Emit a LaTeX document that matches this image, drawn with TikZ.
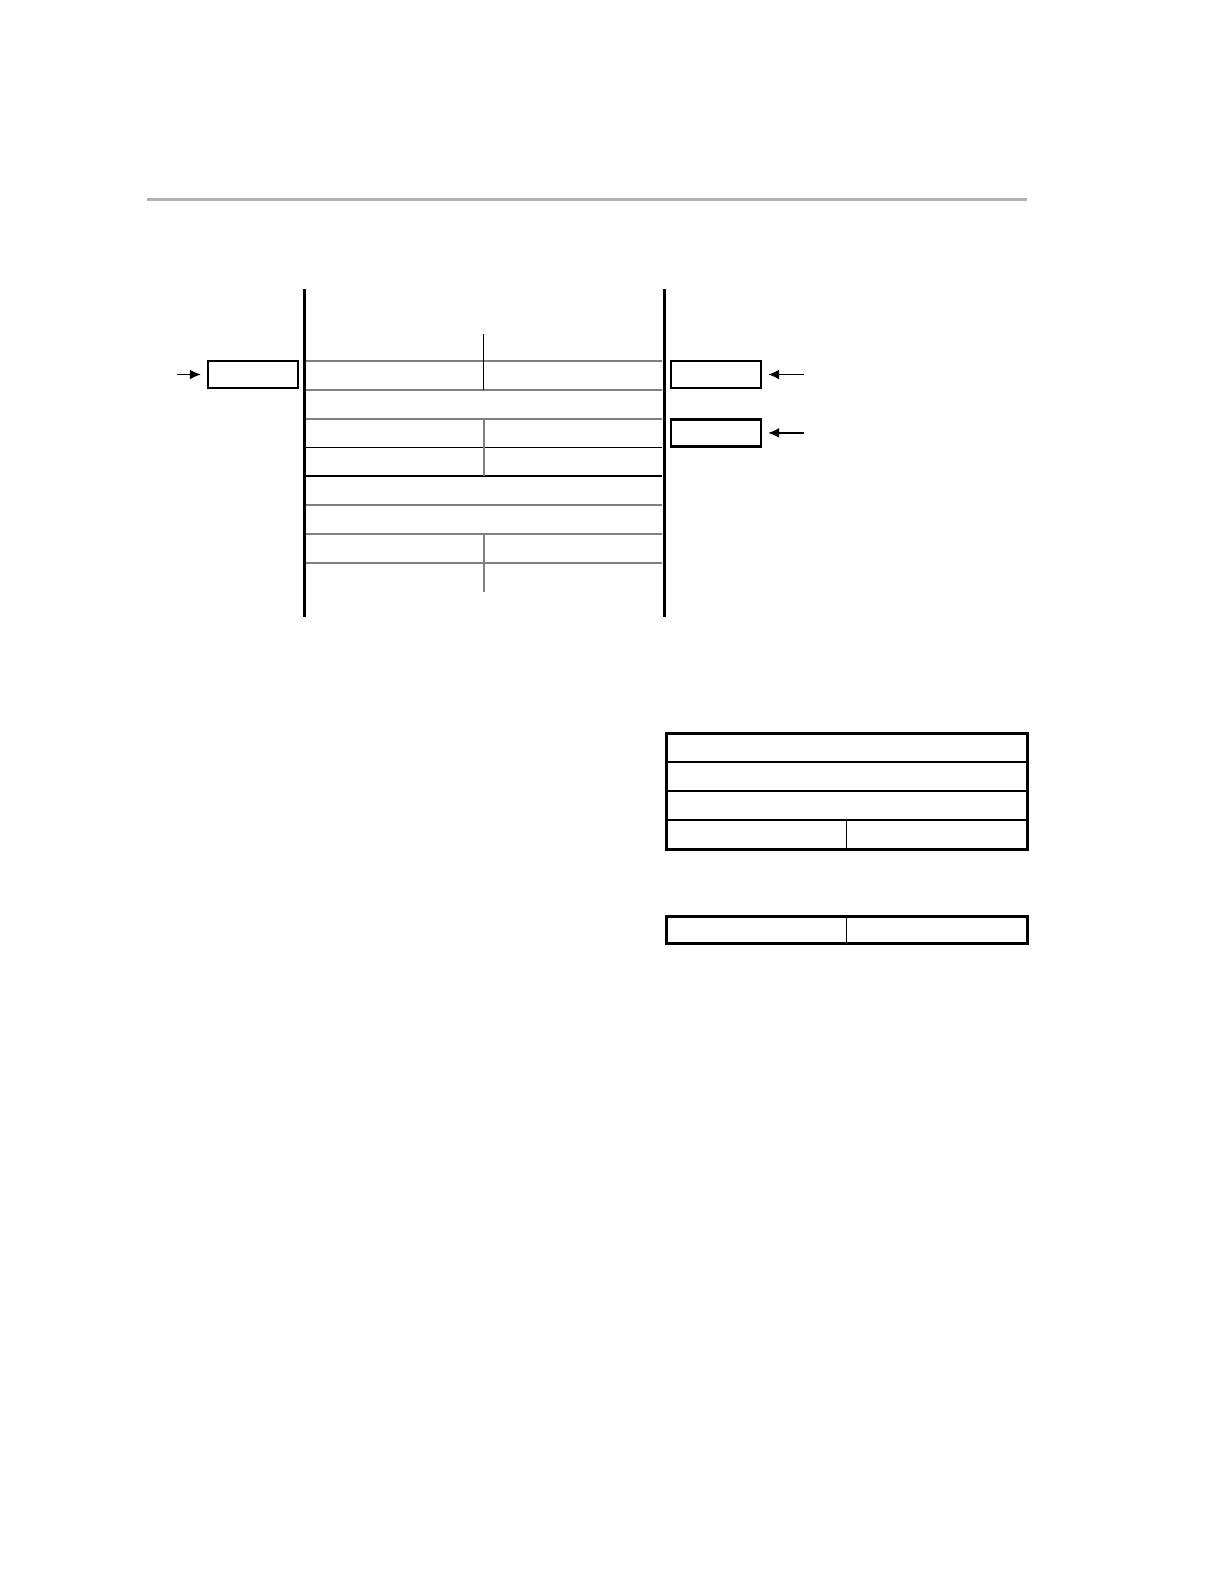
\documentclass[tikz,border=0pt]{standalone}
\usepackage{tikz}
\usetikzlibrary{arrows.meta,positioning}
\tikzset{
  reg/.style={ % register box beside the stack
    draw, rectangle, line width=1.2pt,
    minimum width=45pt, minimum height=13.5pt, inner sep=0pt
  },
  wall/.style={line width=1.5pt}, % edge of the stack
  slot/.style={gray, line width=1pt}, % line between stack words
  ptr/.style={-{Latex[length=5.5pt,width=5pt]}, line width=0.7pt, shorten >=3pt}
}

\begin{document}
\begin{tikzpicture}[x=0.5pt,y=-0.5pt]
  \useasboundingbox (0,0) rectangle (1224,1584);

  % rule at the head of the page
  \draw[gray!60, line width=1.5pt] (147,199) -- (1027,199);

  % the stack
  \draw[wall] (304,289) -- (304,617);
  \draw[wall] (664,289) -- (664,617);
  \foreach \y in {361,390,419,505,534,563}
    \draw[slot] (306,\y) -- (662,\y);
  \foreach \y in {447.5,476}
    \draw[line width=0.8pt] (306,\y) -- (662,\y);
  \draw[line width=0.7pt] (483.5,334) -- (483.5,390);
  \draw[slot] (483.5,419) -- (483.5,476);
  \draw[slot] (483.5,534) -- (483.5,592);

  % registers
  \node[reg] (sp) at (253,374.5) {};
  \node[reg] (pc) at (716,374.5) {};
  \node[reg,below=14.5pt of pc] (fp) {};
  \coordinate[left=15pt of sp] (sp_in);
  \coordinate[right=21pt of pc] (pc_in);
  \coordinate[right=21pt of fp] (fp_in);
  \draw[ptr] (sp_in) -- (sp);
  \draw[ptr] (pc_in) -- (pc);
  \draw[ptr] (fp_in) -- (fp);

  % frame layout
  \draw[line width=1.5pt] (666,733) rectangle (1027,849);
  \foreach \y in {762,791,820}
    \draw[line width=0.8pt] (666,\y) -- (1027,\y);
  \draw[line width=0.8pt] (846.5,820) -- (846.5,849);

  \draw[line width=1.5pt] (666,916) rectangle (1027,943);
  \draw[line width=0.8pt] (846.5,916) -- (846.5,943);
\end{tikzpicture}
\end{document}
